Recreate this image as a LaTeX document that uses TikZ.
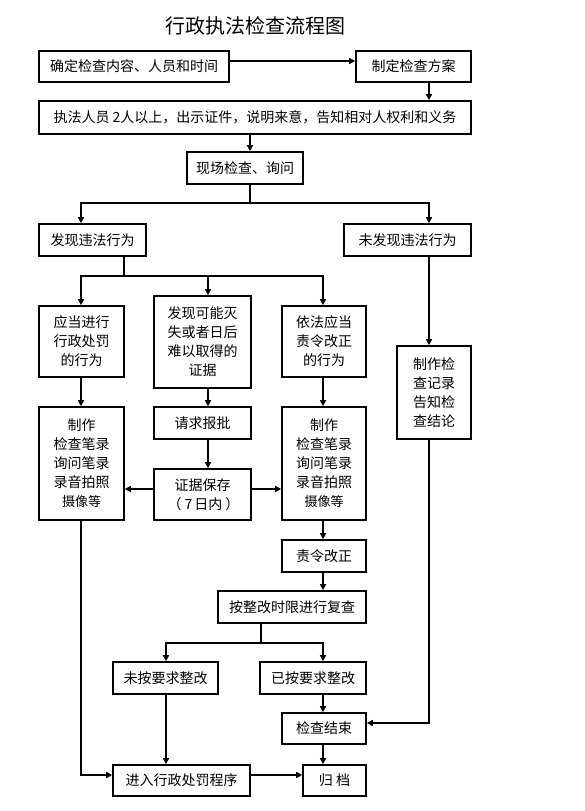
\documentclass[tikz,border=0pt]{standalone}
\usepackage{fontspec}
\newfontfamily\cjk{Noto Sans CJK SC}
\usetikzlibrary{arrows.meta}
\begin{document}
\begin{tikzpicture}[x=1pt,y=-1pt,
  box/.style={draw,line width=1.6pt,inner sep=0pt,align=center,font=\cjk\fontsize{14}{19}\selectfont},
  ln/.style={line width=1.5pt},
  arr/.style={line width=1.5pt,-{Triangle[length=6pt,width=6pt]}}]
\useasboundingbox (0,0) rectangle (584,811);
\fill[white] (0,0) rectangle (584,811);
% helper coordinates
\coordinate (x81) at (81,0);
\coordinate (x124) at (124,0);
\coordinate (x166) at (166,0);
\coordinate (x208) at (208,0);
\coordinate (x250) at (250,0);
\coordinate (x261) at (261,0);
\coordinate (x323) at (323,0);
\coordinate (x429) at (429,0);
\coordinate (y61) at (0,61);
\coordinate (y203) at (0,203);
\coordinate (y276) at (0,276);
\coordinate (y489) at (0,489);
\coordinate (y643) at (0,643);
\coordinate (y723) at (0,723);
\coordinate (y775) at (0,775);

\node[font=\cjk\fontsize{20}{24}\selectfont] (title) at (255,26) {行政执法检查流程图};

\node[box,minimum width=190pt,minimum height=31pt] (b1) at (134,66.5) {确定检查内容、人员和时间};
\node[box,minimum width=115pt,minimum height=31pt] (b2) at (413.5,66.5) {制定检查方案};
\node[box,minimum width=432pt,minimum height=33pt] (b3) at (255,117.5) {执法人员 2人以上，出示证件，说明来意，告知相对人权利和义务};
\node[box,minimum width=116pt,minimum height=32pt] (b4) at (245,168) {现场检查、询问};
\node[box,minimum width=107pt,minimum height=32pt] (b5) at (92.5,240) {发现违法行为};
\node[box,minimum width=127pt,minimum height=32pt] (b6) at (407.5,240) {未发现违法行为};
\node[box,minimum width=85pt,minimum height=71pt] (b7) at (81.5,341.5) {应当进行\\行政处罚\\的行为};
\node[box,minimum width=97pt,minimum height=92pt] (b8) at (202.5,342) {发现可能灭\\失或者日后\\难以取得的\\证据};
\node[box,minimum width=84pt,minimum height=71pt] (b9) at (324,341.5) {依法应当\\责令改正\\的行为};
\node[box,minimum width=74pt,minimum height=93pt] (b10) at (434,392.5) {制作检\\查记录\\告知检\\查结论};
\node[box,minimum width=85pt,minimum height=113pt] (b11) at (81.5,463.5) {制作\\检查笔录\\询问笔录\\录音拍照\\{\fontsize{13}{19}\selectfont 摄像等}};
\node[box,minimum width=97pt,minimum height=32pt] (b12) at (202.5,423) {请求报批};
\node[box,minimum width=97pt,minimum height=51pt] (b13) at (202.5,494.5) {证据保存\\\kern2pt（\kern3pt 7\kern2pt 日内\kern3pt ）};
\node[box,minimum width=84pt,minimum height=113pt] (b14) at (324,463.5) {制作\\检查笔录\\询问笔录\\录音拍照\\{\fontsize{13}{19}\selectfont 摄像等}};
\node[box,minimum width=84pt,minimum height=32pt] (b15) at (324,556) {责令改正};
\node[box,minimum width=148pt,minimum height=32pt] (b16) at (292,607) {按整改时限进行复查};
\node[box,minimum width=105pt,minimum height=32pt] (b17) at (165.5,678) {未按要求整改};
\node[box,minimum width=106pt,minimum height=32pt] (b18) at (313,678) {已按要求整改};
\node[box,minimum width=84pt,minimum height=31pt] (b19) at (324,728.5) {检查结束};
\node[box,minimum width=137pt,minimum height=31pt] (b20) at (181.5,780.5) {进入行政处罚程序};
\node[box,minimum width=63pt,minimum height=31pt] (b21) at (334.5,780.5) {归 档};

% connectors
\draw[arr] (b1.east |- y61) -- (b2.west |- y61);
\draw[arr] (b2.south -| x429) -- (b3.north -| x429);
\draw[arr] (b3.south -| x250) -- (b4.north -| x250);
\draw[arr] (b4.south -| x250) -- (x250 |- y203) -| (b5.north -| x81);
\draw[arr] (x250 |- y203) -| (b6.north -| x429);
\draw[arr] (b5.south -| x124) -- (x124 |- y276) -| (b7.north -| x81);
\draw[arr] (x124 |- y276) -| (b8.north -| x208);
\draw[arr] (x124 |- y276) -| (b9.north -| x323);
\draw[arr] (b6.south -| x429) -- (b10.north -| x429);
\draw[arr] (b7.south -| x81) -- (b11.north -| x81);
\draw[arr] (b8.south -| x208) -- (b12.north -| x208);
\draw[arr] (b12.south -| x208) -- (b13.north -| x208);
\draw[arr] (b13.west |- y489) -- (b11.east |- y489);
\draw[arr] (b13.east |- y489) -- (b14.west |- y489);
\draw[arr] (b9.south -| x323) -- (b14.north -| x323);
\draw[arr] (b14.south -| x323) -- (b15.north -| x323);
\draw[arr] (b15.south -| x323) -- (b16.north -| x323);
\draw[arr] (b16.south -| x261) -- (x261 |- y643) -| (b17.north -| x166);
\draw[arr] (x261 |- y643) -| (b18.north -| x323);
\draw[arr] (b17.south -| x166) -- (b20.north -| x166);
\draw[arr] (b18.south -| x323) -- (b19.north -| x323);
\draw[arr] (b19.south -| x323) -- (b21.north -| x323);
\draw[arr] (b11.south -| x81) |- (b20.west |- y775);
\draw[arr] (b20.east |- y775) -- (b21.west |- y775);
\draw[arr] (b10.south -| x429) |- (b19.east |- y723);
\end{tikzpicture}
\end{document}
